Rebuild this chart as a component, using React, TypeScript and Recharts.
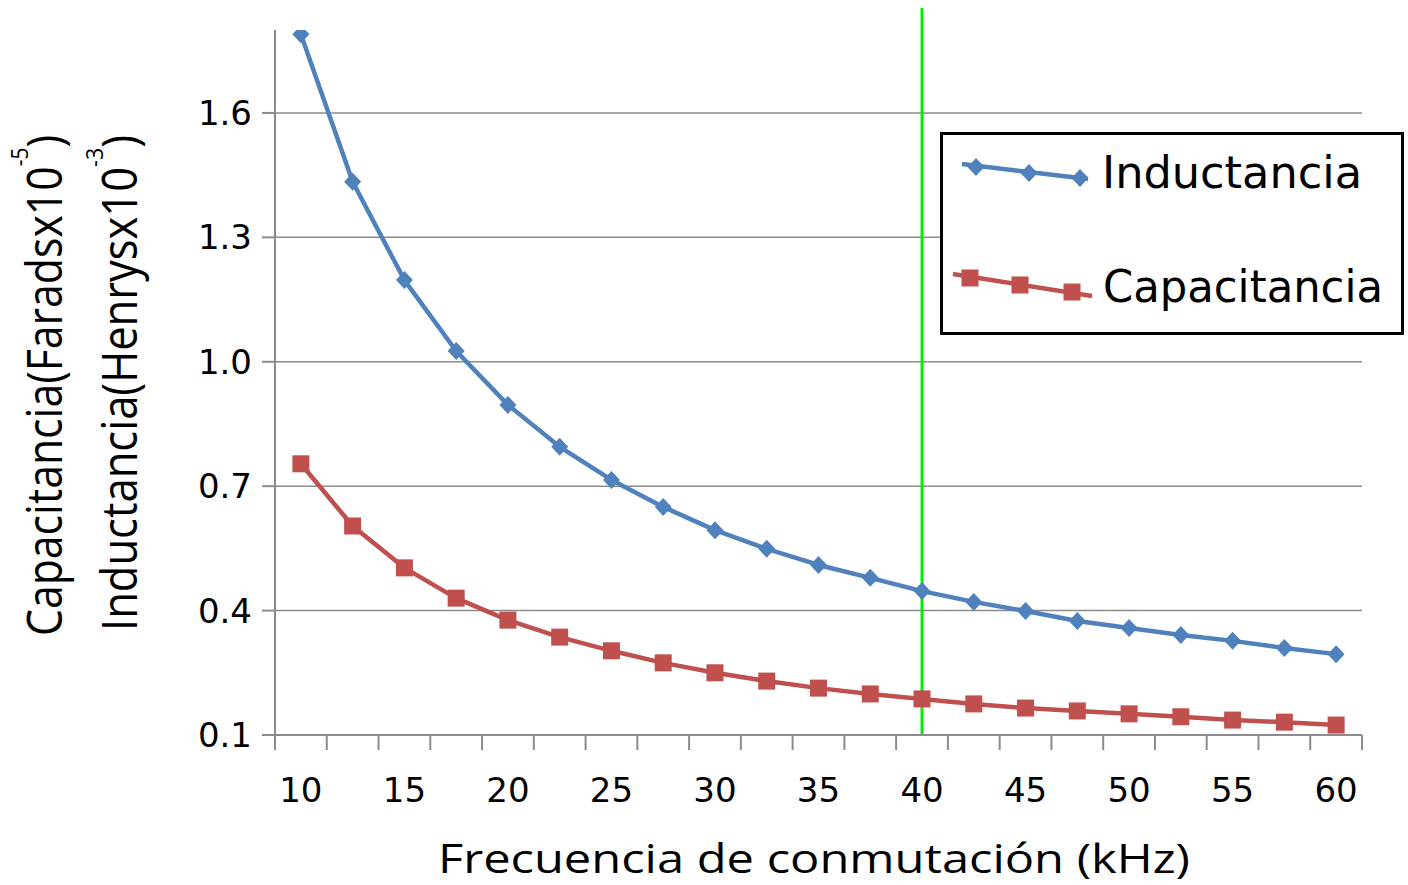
import {
  CartesianGrid,
  Legend,
  Line,
  LineChart,
  ReferenceLine,
  XAxis,
  YAxis,
} from "recharts";

// frecuencia de conmutación (kHz)
const frequencies = [
  10, 12.5, 15, 17.5, 20, 22.5, 25, 27.5, 30, 32.5, 35, 37.5, 40, 42.5, 45,
  47.5, 50, 52.5, 55, 57.5, 60,
];
// Henrys x10^-3
const inductance = [
  1.79, 1.434, 1.197, 1.026, 0.896, 0.795, 0.715, 0.65, 0.594, 0.549, 0.51,
  0.479, 0.447, 0.421, 0.399, 0.375, 0.358, 0.341, 0.327, 0.31, 0.295,
];
// Farads x10^-5
const capacitance = [
  0.754, 0.604, 0.503, 0.43, 0.377, 0.336, 0.303, 0.274, 0.25, 0.23, 0.213,
  0.199, 0.187, 0.175, 0.165, 0.158, 0.151, 0.144, 0.136, 0.131, 0.124,
];
const yTicks = [0.1, 0.4, 0.7, 1.0, 1.3, 1.6];
const xLabels = [10, 15, 20, 25, 30, 35, 40, 45, 50, 55, 60];
const selectedFreq = 40;

const data = frequencies.map((f, i) => ({
  f,
  inductancia: inductance[i],
  capacitancia: capacitance[i],
}));

const BLUE = "#4f81bd";
const RED = "#c0504d";
const GRAY = "#8c8c8c";
const TICK_FONT = "DejaVu Sans, Verdana, sans-serif";
const TITLE_FONT = "Open Sans, Noto Sans, sans-serif";

const PLOT_LEFT = 275;
const PLOT_RIGHT = 1362;
const PLOT_TOP = 30;
const PLOT_BOTTOM = 735;
const BAND = (PLOT_RIGHT - PLOT_LEFT) / frequencies.length;

const XTick = (props: any) => {
  const { x, payload, index } = props;
  const last = index === frequencies.length - 1;
  return (
    <g>
      <line
        x1={x - BAND / 2}
        x2={x - BAND / 2}
        y1={PLOT_BOTTOM}
        y2={PLOT_BOTTOM + 15}
        stroke={GRAY}
        strokeWidth={2}
      />
      {last && (
        <line
          x1={x + BAND / 2}
          x2={x + BAND / 2}
          y1={PLOT_BOTTOM}
          y2={PLOT_BOTTOM + 15}
          stroke={GRAY}
          strokeWidth={2}
        />
      )}
      {xLabels.includes(payload.value) && (
        <text
          x={x}
          y={802}
          textAnchor="middle"
          fontSize={34}
          fontFamily={TICK_FONT}
          fill="#000"
        >
          {payload.value}
        </text>
      )}
    </g>
  );
};

const Diamond = ({ cx, cy, color }: any) => (
  <polygon
    points={`${cx},${cy - 9} ${cx + 8.5},${cy} ${cx},${cy + 9} ${cx - 8.5},${cy}`}
    fill={color}
  />
);

const Square = ({ cx, cy, color }: any) => (
  <rect x={cx - 8.5} y={cy - 8.5} width={17} height={17} fill={color} />
);

const YTitle = () => (
  <g fontFamily={TITLE_FONT} fill="#000">
    <text
      transform="translate(62,636) rotate(-90)"
      fontSize={49}
      textLength={501}
      lengthAdjust="spacingAndGlyphs"
    >
      Capacitancia(Faradsx10
      <tspan fontSize={24} dy={-34}>
        -5
      </tspan>
      <tspan dy={34}>)</tspan>
    </text>
    <text
      transform="translate(137,631) rotate(-90)"
      fontSize={49}
      textLength={496}
      lengthAdjust="spacingAndGlyphs"
    >
      Inductancia(Henrysx10
      <tspan fontSize={24} dy={-34}>
        -3
      </tspan>
      <tspan dy={34}>)</tspan>
    </text>
  </g>
);

const XTitle = () => (
  <text
    x={438}
    y={873}
    fontSize={40}
    fontFamily={TITLE_FONT}
    fill="#000"
    textLength={752}
    lengthAdjust="spacingAndGlyphs"
  >
    Frecuencia de conmutación (kHz)
  </text>
);

const LegendBox = ({ payload }: any) => {
  const items = payload || [];
  const ind = items.find((it: any) => it.value === "Inductancia");
  const cap = items.find((it: any) => it.value === "Capacitancia");
  return (
    <svg width={468} height={207} style={{ display: "block" }}>
      <rect x={3.5} y={3.5} width={461} height={200} fill="#fff" stroke="#000" strokeWidth={3} />
      {ind && (
        <g>
          <line x1={24} y1={34} x2={150} y2={49} stroke={ind.color} strokeWidth={4.5} />
          <Diamond cx={38} cy={37} color={ind.color} />
          <Diamond cx={91} cy={43} color={ind.color} />
          <Diamond cx={142} cy={48} color={ind.color} />
          <text x={164} y={58} fontSize={44} fontFamily={TICK_FONT} textLength={260} lengthAdjust="spacingAndGlyphs">
            {ind.value}
          </text>
        </g>
      )}
      {cap && (
        <g>
          <line x1={15} y1={144} x2={154} y2={166} stroke={cap.color} strokeWidth={4.5} />
          <Square cx={32} cy={148} color={cap.color} />
          <Square cx={82} cy={155} color={cap.color} />
          <Square cx={134} cy={162} color={cap.color} />
          <text x={165} y={172} fontSize={44} fontFamily={TICK_FONT} textLength={280} lengthAdjust="spacingAndGlyphs">
            {cap.value}
          </text>
        </g>
      )}
    </svg>
  );
};

export default function App() {
  return (
    <div style={{ position: "absolute", left: 0, top: 0, width: 1408, height: 885, background: "#fff" }}>
      <LineChart
        width={1408}
        height={885}
        data={data}
        margin={{ top: PLOT_TOP, right: 1408 - PLOT_RIGHT, left: PLOT_LEFT - 100, bottom: 885 - PLOT_BOTTOM - 100 }}
      >
        <CartesianGrid vertical={false} horizontalValues={yTicks} stroke={GRAY} strokeWidth={1.5} />
        <XAxis
          dataKey="f"
          type="category"
          interval={0}
          height={100}
          padding={{ left: BAND / 2, right: BAND / 2 }}
          tickLine={false}
          axisLine={{ stroke: GRAY, strokeWidth: 2 }}
          tick={<XTick />}
          label={{ content: () => <XTitle /> }}
        />
        <YAxis
          type="number"
          domain={[0.1, 1.8]}
          ticks={yTicks}
          interval={0}
          width={100}
          tickSize={13}
          tickMargin={10}
          allowDataOverflow
          tickFormatter={(v: number) => v.toFixed(1)}
          tick={{ fontSize: 34, fill: "#000", fontFamily: TICK_FONT }}
          tickLine={{ stroke: GRAY, strokeWidth: 2 }}
          axisLine={{ stroke: GRAY, strokeWidth: 2 }}
          label={{ content: () => <YTitle /> }}
        />
        <Legend
          layout="horizontal"
          verticalAlign="middle"
          align="center"
          wrapperStyle={{ left: 938, top: 130, width: 468, height: 207 }}
          content={(props: any) => <LegendBox payload={props.payload} />}
        />
        <Line
          dataKey="inductancia"
          name="Inductancia"
          type="linear"
          stroke={BLUE}
          strokeWidth={4.5}
          strokeLinejoin="round"
          isAnimationActive={false}
          activeDot={false}
          dot={(p: any) => <Diamond key={`d-${p.index}`} cx={p.cx} cy={p.cy} color={BLUE} />}
        />
        <Line
          dataKey="capacitancia"
          name="Capacitancia"
          type="linear"
          stroke={RED}
          strokeWidth={4.5}
          strokeLinejoin="round"
          isAnimationActive={false}
          activeDot={false}
          dot={(p: any) => <Square key={`s-${p.index}`} cx={p.cx} cy={p.cy} color={RED} />}
        />
        <ReferenceLine
          x={selectedFreq}
          ifOverflow="visible"
          shape={(p: any) => (
            <line x1={p.x1} x2={p.x2} y1={8} y2={PLOT_BOTTOM} stroke="#00ee00" strokeWidth={3} />
          )}
        />
      </LineChart>
    </div>
  );
}
